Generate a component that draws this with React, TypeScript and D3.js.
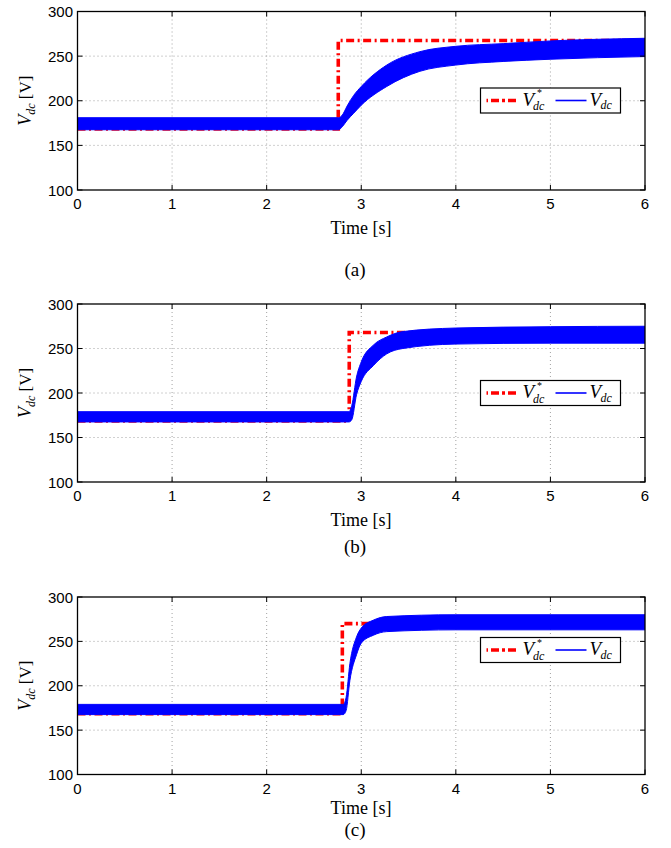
import React, { useRef, useEffect } from 'react';
import * as d3 from 'd3';

const timeTicks = [0, 1, 2, 3, 4, 5, 6];
const voltTicks = [100, 150, 200, 250, 300];
const captions = ['(a)', '(b)', '(c)'];

// (a) envelope of the measured Vdc band and the reference step
const timeA = [0, 2.76, 2.8, 2.85, 2.92, 3.0, 3.27, 3.62, 4.0, 4.5, 5.0, 6.0];
const upperA = [181, 181, 184, 194, 206, 216, 240, 255, 261, 264, 267, 270];
const lowerA = [167.5, 167.5, 171, 178, 186, 195, 216, 233, 240, 244, 246.5, 249.5];
const refTimeA = [0, 2.757, 2.757, 6];
const refVoltA = [168.5, 168.5, 267.5, 267.5];

// (b)
const timeB = [0, 2.87, 2.9, 2.95, 3.0, 3.13, 3.27, 3.44, 4.0, 5.0, 6.0];
const upperB = [179, 179, 186, 218, 235, 254, 263, 269, 273, 274.5, 275];
const lowerB = [167.5, 167.5, 170, 198, 213, 231, 244, 250, 255, 256, 256];
const refTimeB = [0, 2.873, 2.873, 6];
const refVoltB = [168.5, 168.5, 268, 268];

// (c)
const timeC = [0, 2.81, 2.84, 2.88, 2.95, 3.0, 3.13, 3.27, 4.0, 6.0];
const upperC = [179, 179, 187, 225, 255, 265, 274, 278, 280, 280];
const lowerC = [167.5, 167.5, 172, 206, 235, 248, 257, 261, 263, 263];
const refTimeC = [0, 2.8, 2.8, 6];
const refVoltC = [168.5, 168.5, 270, 270];

const SANS = '"Liberation Sans", Arial, Helvetica, sans-serif';
const SERIF = '"Liberation Serif", "Times New Roman", serif';

const panels = [
  { time: timeA, upper: upperA, lower: lowerA, refTime: refTimeA, refVolt: refVoltA, top: 11.5, bottom: 190, legendTop: 88, xLabelY: 234, captionY: 276 },
  { time: timeB, upper: upperB, lower: lowerB, refTime: refTimeB, refVolt: refVoltB, top: 304, bottom: 482, legendTop: 380.5, xLabelY: 526, captionY: 553 },
  { time: timeC, upper: upperC, lower: lowerC, refTime: refTimeC, refVolt: refVoltC, top: 597, bottom: 774.5, legendTop: 637.5, xLabelY: 814, captionY: 836 },
];

const App = () => {
  const chartRef = useRef(null);

  useEffect(() => {
    const root = d3.select(chartRef.current);
    root.select('svg').remove();

    const svg = root.append('svg')
      .attr('width', 671)
      .attr('height', 848)
      .style('position', 'absolute')
      .style('left', '0px')
      .style('top', '0px')
      .style('background', '#fff');

    const left = 77.5, right = 645;
    const x = d3.scaleLinear().domain([0, 6]).range([left, right]);

    panels.forEach((p, k) => {
      const y = d3.scaleLinear().domain([100, 300]).range([p.bottom, p.top]);
      const g = svg.append('g');

      const clipId = `clip-${k}`;
      svg.append('clipPath').attr('id', clipId)
        .append('rect')
        .attr('x', left).attr('y', p.top)
        .attr('width', right - left).attr('height', p.bottom - p.top);

      // dotted grid
      g.selectAll('line.vgrid').data(timeTicks.slice(1, -1)).enter()
        .append('line')
        .attr('x1', d => x(d)).attr('x2', d => x(d))
        .attr('y1', p.top).attr('y2', p.bottom)
        .attr('stroke', '#8a8a8a').attr('stroke-width', 0.8)
        .attr('stroke-dasharray', '1,3');
      g.selectAll('line.hgrid').data(voltTicks.slice(1, -1)).enter()
        .append('line')
        .attr('x1', left).attr('x2', right)
        .attr('y1', d => y(d)).attr('y2', d => y(d))
        .attr('stroke', '#8a8a8a').attr('stroke-width', 0.8)
        .attr('stroke-dasharray', '1,3');

      const plot = g.append('g').attr('clip-path', `url(#${clipId})`);

      // reference (drawn under the measured band)
      const refLine = d3.line<number>()
        .x(i => x(p.refTime[i]))
        .y(i => y(p.refVolt[i]));
      plot.append('path')
        .attr('d', refLine(d3.range(p.refTime.length)))
        .attr('fill', 'none')
        .attr('stroke', '#ff0000')
        .attr('stroke-width', 3.6)
        .attr('stroke-dasharray', '8,3.5,2,3.5');

      // measured Vdc band
      const band = d3.area<number>()
        .x(i => x(p.time[i]))
        .y0(i => y(p.lower[i]))
        .y1(i => y(p.upper[i]))
        .curve(d3.curveMonotoneX);
      plot.append('path')
        .attr('d', band(d3.range(p.time.length)))
        .attr('fill', '#0000ff')
        .attr('stroke', '#0000ff')
        .attr('stroke-width', 1);

      // axes box + inward ticks
      g.append('rect')
        .attr('x', left).attr('y', p.top)
        .attr('width', right - left).attr('height', p.bottom - p.top)
        .attr('fill', 'none').attr('stroke', '#000').attr('stroke-width', 1.3);

      const tl = 5;
      timeTicks.forEach(t => {
        g.append('line').attr('x1', x(t)).attr('x2', x(t)).attr('y1', p.bottom).attr('y2', p.bottom - tl).attr('stroke', '#000');
        g.append('line').attr('x1', x(t)).attr('x2', x(t)).attr('y1', p.top).attr('y2', p.top + tl).attr('stroke', '#000');
      });
      voltTicks.forEach(v => {
        g.append('line').attr('x1', left).attr('x2', left + tl).attr('y1', y(v)).attr('y2', y(v)).attr('stroke', '#000');
        g.append('line').attr('x1', right).attr('x2', right - tl).attr('y1', y(v)).attr('y2', y(v)).attr('stroke', '#000');
      });

      // tick labels
      g.selectAll('text.xt').data(timeTicks).enter()
        .append('text')
        .attr('x', d => x(d))
        .attr('y', p.bottom + 19)
        .attr('text-anchor', 'middle')
        .style('font-family', SANS).style('font-size', '15px')
        .text(d => d);
      g.selectAll('text.yt').data(voltTicks).enter()
        .append('text')
        .attr('x', left - 4.5)
        .attr('y', d => y(d) + 5.5)
        .attr('text-anchor', 'end')
        .style('font-family', SANS).style('font-size', '15px')
        .text(d => d);

      // y label
      const ylab = g.append('text')
        .attr('transform', `translate(31,${(p.top + p.bottom) / 2}) rotate(-90)`)
        .attr('text-anchor', 'middle')
        .style('font-family', SERIF).style('font-size', '17px');
      ylab.append('tspan').style('font-style', 'italic').style('font-size', '18px').text('V');
      ylab.append('tspan').style('font-style', 'italic').style('font-size', '12px').attr('dy', 4).text('dc');
      ylab.append('tspan').attr('dy', -4).text('\u00a0[V]');

      // x label and caption
      g.append('text')
        .attr('x', 361).attr('y', p.xLabelY)
        .attr('text-anchor', 'middle')
        .style('font-family', SERIF).style('font-size', '18px')
        .text('Time [s]');
      g.append('text')
        .attr('x', 355).attr('y', p.captionY)
        .attr('text-anchor', 'middle')
        .style('font-family', SERIF).style('font-size', '19px')
        .text(captions[k]);

      // legend
      const lx = 480.5, ly = p.legendTop;
      const lg = g.append('g');
      lg.append('rect')
        .attr('x', lx).attr('y', ly).attr('width', 140).attr('height', 25)
        .attr('fill', '#fff').attr('stroke', '#000').attr('stroke-width', 1.2);
      lg.append('line')
        .attr('x1', lx + 6).attr('x2', lx + 38).attr('y1', ly + 12.5).attr('y2', ly + 12.5)
        .attr('stroke', '#ff0000').attr('stroke-width', 3.6)
        .attr('stroke-dasharray', '1.5,3,8,3,3,3,8,3');
      lg.append('text').attr('x', lx + 42).attr('y', ly + 17.5)
        .style('font-family', SERIF).style('font-style', 'italic').style('font-size', '19px').text('V');
      lg.append('text').attr('x', lx + 56.5).attr('y', ly + 8)
        .style('font-family', SERIF).style('font-size', '10px').text('*');
      lg.append('text').attr('x', lx + 52.5).attr('y', ly + 22)
        .style('font-family', SERIF).style('font-style', 'italic').style('font-size', '12px').text('dc');
      lg.append('line')
        .attr('x1', lx + 75).attr('x2', lx + 106).attr('y1', ly + 12.5).attr('y2', ly + 12.5)
        .attr('stroke', '#0000ff').attr('stroke-width', 1.6);
      lg.append('text').attr('x', lx + 109).attr('y', ly + 17.5)
        .style('font-family', SERIF).style('font-style', 'italic').style('font-size', '19px').text('V');
      lg.append('text').attr('x', lx + 120).attr('y', ly + 21)
        .style('font-family', SERIF).style('font-style', 'italic').style('font-size', '12px').text('dc');
    });
  }, []);

  return <div ref={chartRef} />;
};

export default App;
